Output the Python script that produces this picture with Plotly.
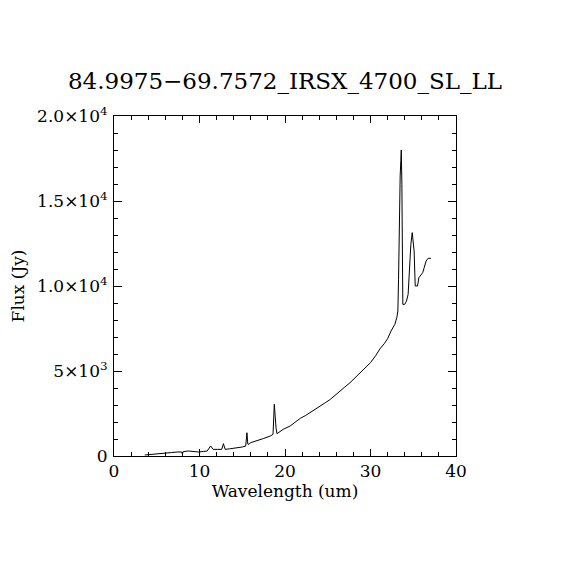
import plotly.graph_objects as go

wavelength = [3.6, 4.2, 4.85, 5.5, 6.0, 6.7, 7.4, 7.9, 8.0, 8.1, 8.7, 9.3, 9.9, 10.5, 10.9,
              11.3, 11.6, 12.1, 12.6, 12.8, 13.0, 13.5, 14.0, 14.5, 15.0, 15.4, 15.55, 15.65,
              15.8, 15.95, 16.5, 16.9, 17.5, 18.28, 18.6, 18.75, 18.85, 18.95, 19.06, 19.8,
              20.6, 21.2, 21.8, 22.4, 22.95, 23.5, 24.1, 24.7, 25.3, 25.9, 26.5, 27.0, 27.6,
              28.2, 28.8, 29.4, 30.0, 30.6, 31.1, 31.6, 32.0, 32.4, 32.85, 33.08, 33.2, 33.28,
              33.35, 33.47, 33.55, 33.6, 33.67, 33.78, 34.0, 34.2, 34.4, 34.57, 34.72, 34.88,
              34.96, 35.1, 35.23, 35.5, 35.66, 36.1, 36.28, 36.5, 36.75, 37.07]
flux = [60, 80, 100, 140, 176, 200, 235, 240, 120, 260, 294, 280, 235, 270, 294,
        590, 390, 390, 390, 725, 390, 420, 450, 490, 530, 580, 1370, 700,
        690, 780, 860, 940, 1030, 1176, 1275, 3040, 1900, 1665, 1313, 1570,
        1765, 1990, 2220, 2380, 2550, 2740, 2940, 3130, 3330, 3570, 3820, 4060, 4310,
        4600, 4900, 5190, 5490, 5900, 6300, 6600, 6900, 7350, 7750, 8140, 8530, 10400,
        13500, 16470, 17400, 18000, 15980, 8920, 8920, 9100, 9500, 11280, 12450, 13140,
        12750, 12060, 10000, 10000, 10490, 10780, 11080, 11470, 11630, 11630]

title_text = "84.9975\u221269.7572_IRSX_4700_SL_LL"
x_ticks = [0, 10, 20, 30, 40]
y_ticks = [0, 5000, 10000, 15000, 20000]
y_tick_labels = ["0", "5\u00d710<sup>3</sup>", "1.0\u00d710<sup>4</sup>",
                 "1.5\u00d710<sup>4</sup>", "2.0\u00d710<sup>4</sup>"]

FONT = "DejaVu Serif"

fig = go.Figure()
fig.add_trace(go.Scatter(x=wavelength, y=flux, mode="lines",
                         line=dict(color="black", width=1), showlegend=False))

fig.update_layout(
    width=570, height=570,
    margin=dict(l=106, r=122, t=108, b=122),
    paper_bgcolor="white", plot_bgcolor="white",
    font=dict(family=FONT, color="black", size=17),
    title=dict(text=title_text, x=(285 - 8) / 570, xanchor="center", y=1 - 73 / 570,
               yanchor="middle", font=dict(family=FONT, size=23, color="black")),
)
fig.update_xaxes(
    range=[0, 40], tickvals=x_ticks, ticktext=[str(v) for v in x_ticks],
    ticks="inside", ticklen=7, tickwidth=1, tickcolor="black",
    minor=dict(dtick=2, ticks="inside", ticklen=4, tickwidth=1, tickcolor="black"),
    showline=True, linecolor="black", linewidth=1, mirror="ticks",
    showgrid=False, zeroline=False, automargin=False,
    title=dict(text="Wavelength (um)", font=dict(family=FONT, size=17), standoff=4),
    tickfont=dict(family=FONT, size=17),
)
fig.update_yaxes(
    range=[0, 20000], tickvals=y_ticks, ticktext=y_tick_labels,
    ticks="inside", ticklen=8, tickwidth=1, tickcolor="black",
    minor=dict(dtick=1000, ticks="inside", ticklen=4, tickwidth=1, tickcolor="black"),
    showline=True, linecolor="black", linewidth=1, mirror="ticks",
    showgrid=False, zeroline=False, ticklabelstandoff=2, automargin=False,
    title=dict(text="Flux (Jy)", font=dict(family=FONT, size=17), standoff=24),
    tickfont=dict(family=FONT, size=17),
)

fig.write_html("out.html")
